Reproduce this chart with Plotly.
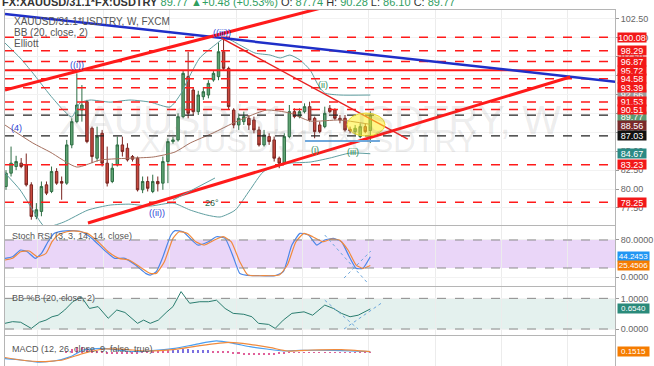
import plotly.graph_objects as go

# ---------------- data ----------------
opens = [80.34, 82.10, 82.98, 83.42, 83.20, 80.56, 76.38, 77.04, 80.56, 79.68,
         82.32, 81.00, 80.78, 85.84, 88.92, 90.46, 91.56, 88.04, 84.08, 87.38,
         83.42, 81.00, 83.20, 85.84, 85.40, 84.30, 84.08, 79.90, 81.00, 79.68,
         81.00, 80.78, 83.64, 86.28, 86.50, 89.58, 94.87, 93.10, 90.24, 92.22,
         92.44, 94.43, 94.87, 98.17, 95.97, 90.46, 88.48, 88.92, 89.36, 89.14,
         87.82, 85.84, 86.94, 86.50, 84.08, 83.42, 86.94, 90.24, 89.58, 90.24,
         90.90, 89.36, 88.48, 88.26, 90.68, 90.46, 89.36, 89.36, 87.90, 87.60,
         86.94, 88.26, 87.74]
closes = [82.10, 83.42, 83.64, 82.98, 80.56, 76.38, 77.26, 80.34, 79.46, 82.32,
          80.78, 80.78, 85.84, 88.92, 91.12, 91.12, 86.28, 84.30, 86.94, 83.42,
          80.78, 82.76, 85.84, 84.96, 83.86, 83.95, 79.90, 81.00, 80.10, 81.00,
          80.70, 83.64, 86.28, 86.50, 89.58, 95.31, 90.02, 90.24, 92.44, 92.88,
          93.98, 95.31, 98.17, 95.97, 90.90, 88.48, 89.36, 89.58, 88.48, 87.82,
          85.84, 87.16, 86.28, 84.08, 83.42, 86.94, 90.24, 89.58, 90.24, 90.90,
          89.14, 87.60, 87.60, 90.02, 90.24, 89.36, 89.14, 87.82, 87.70, 88.04,
          88.26, 87.60, 89.77]
highs = [82.5, 85.62, 84.4, 84.1, 84.7, 80.9, 78.14, 81.0, 81.0, 82.98,
         82.76, 81.66, 86.5, 89.36, 95.31, 93.76, 91.8, 88.26, 88.26, 87.82,
         85.62, 83.42, 86.94, 86.94, 86.06, 84.5, 84.30, 81.66, 81.66, 81.9,
         81.66, 84.30, 86.7, 86.9, 90.02, 95.75, 98.17, 93.5, 93.0, 93.5,
         94.4, 95.6, 99.4, 100.1, 96.2, 90.7, 90.0, 90.24, 89.8, 89.58,
         88.26, 87.82, 87.38, 86.94, 84.3, 87.38, 91.12, 90.68, 90.68, 91.34,
         91.56, 89.58, 88.92, 90.9, 91.12, 90.68, 89.8, 89.8, 88.26, 88.48,
         88.7, 88.7, 90.28]
lows = [79.9, 81.66, 82.5, 82.76, 80.34, 75.94, 76.0, 76.4, 79.2, 79.46,
        80.56, 78.58, 80.56, 85.40, 88.7, 88.92, 86.06, 83.42, 83.64, 82.98,
        80.34, 80.78, 82.98, 84.30, 83.64, 83.64, 79.68, 79.46, 79.68, 79.46,
        79.68, 79.90, 80.78, 86.0, 86.28, 89.36, 89.36, 89.8, 89.8, 91.8,
        92.0, 94.2, 94.4, 95.75, 90.46, 88.04, 87.82, 88.48, 87.82, 87.38,
        85.62, 85.62, 85.84, 83.64, 82.76, 83.2, 86.72, 89.36, 89.36, 90.02,
        88.92, 86.72, 87.38, 88.04, 90.02, 89.14, 88.7, 87.6, 87.38, 87.16,
        86.72, 87.38, 86.10]
weeks = list(range(len(opens)))

# Bollinger bands
bb_up_x = [-0.2, 2.8, 5.3, 8.7, 11.3, 13.0, 14.6, 16.6, 20.6, 24.5, 28.5, 32.4, 34.4, 36.4, 38.3,
           41.3, 43.3, 46.2, 49.2, 52.2, 54.2, 56.1, 58.1, 60.1, 61.7, 63.0, 66.0, 72.0]
bb_up_y = [99.32, 97.34, 95.35, 92.44, 90.46, 89.53, 91.38, 91.78, 91.5, 91.78, 91.5, 90.85, 92.44, 95.09, 97.34,
           99.06, 99.98, 99.06, 98.0, 97.73, 97.34, 97.73, 97.07, 95.75, 93.76, 92.7, 92.44, 92.44]
bb_mid_x = [-0.2, 5.3, 8.7, 14.0, 18.6, 25.1, 29.1, 33.4, 36.4, 40.9, 44.9, 49.6, 51.6, 56.1, 60.1, 66.0, 72.0]
bb_mid_y = [88.47, 86.09, 84.9, 82.91, 83.84, 84.1, 84.24, 84.9, 86.09, 87.41, 88.73, 90.06, 90.46, 90.06, 89.0, 89.13, 88.56]
bb_lo_x = [-0.2, 2.8, 5.3, 7.7, 11.3, 16.2, 20.6, 24.5, 28.5, 33.0, 36.4, 39.7, 42.3, 45.3, 48.2,
           50.8, 53.6, 56.1, 60.1, 64.0, 68.0, 72.0]
bb_lo_y = [82.12, 79.87, 77.22, 75.0, 75.6, 77.22, 77.88, 78.0, 77.75, 78.15, 77.22, 76.56, 76.3, 77.22, 79.87,
           82.25, 83.18, 83.44, 83.57, 84.1, 84.76, 84.67]

# horizontal levels
red_dash_levels = [100.08, 98.29, 96.87, 94.58, 93.39, 91.53, 90.51, 83.23, 78.25]
red_solid_level = 95.72
black_levels = [89.77, 87.03]

# trend lines (week index, price)
blue_line = [(-0.2, 103.16), (120.4, 94.2)]
red_upper = [(-0.2, 93.1), (66.0, 104.6)]
red_lower = [(16.2, 75.5), (111.5, 94.82)]
red_thin = [(42.5, 100.0), (79.4, 86.6)]
blue_short = [(59.1, 86.35), (73.9, 86.35)]
angle_line = [(33.0, 78.54), (41.3, 81.46)]
highlight = [(67.4, 87.01), (74.9, 90.06)]

wave_blue = [("((i))", 14.0, 96.4), ("((iii))", 42.7, 100.65), ("((ii))", 29.8, 76.8), ("(4)", 2.0, 88.1)]
wave_green = [("(ii)", 62.6, 93.76), ("(i)", 61.1, 85.16), ("(iii)", 68.6, 84.9)]

# Stoch RSI
k_x = [-0.2, 1.3, 2.9, 4.2, 5.8, 7.0, 8.3, 9.5, 11.2, 13.2, 14.9, 17.0, 19.4, 21.5, 23.5, 25.6, 27.6, 28.5,
       29.7, 30.9, 32.6, 33.4, 35.0, 36.7, 37.9, 40.0, 41.6, 43.3, 44.9, 46.2, 47.4, 49.9, 53.2, 54.8, 56.5,
       58.1, 59.8, 61.4, 63.0, 64.7, 66.3, 68.0, 69.2, 70.5, 72.0]
k_y = [40.7, 44.1, 58.5, 54.9, 40.7, 51.3, 76.3, 94.1, 99.1, 100, 97.7, 83.4, 58.5, 40.7, 40.7, 26.3, 8.5, 4.9,
       12.0, 40.7, 90.6, 100, 97.7, 79.9, 69.2, 76.3, 87.0, 83.4, 44.1, 8.5, 4.9, 3.5, 3.5, 12.0, 69.2,
       94.1, 90.6, 69.2, 79.9, 83.4, 76.3, 40.7, 19.2, 19.2, 44.25]
d_x = [-0.2, 1.3, 2.9, 4.6, 6.2, 7.9, 9.1, 10.3, 12.0, 14.0, 16.1, 18.2, 20.2, 22.3, 24.3, 26.4, 28.5, 29.7,
       31.3, 33.0, 34.2, 35.9, 37.5, 39.2, 41.2, 42.9, 44.5, 46.2, 47.8, 50.7, 54.0, 55.6, 57.3, 58.9, 60.6,
       62.6, 64.3, 65.9, 67.6, 69.2, 70.5, 72.0]
d_y = [37.1, 40.7, 54.9, 56.3, 44.1, 51.3, 76.3, 90.6, 97.7, 99.1, 94.1, 76.3, 54.9, 40.7, 37.1, 22.7, 8.5, 8.5,
       33.5, 83.4, 97.7, 94.1, 76.3, 69.2, 79.9, 87.0, 76.3, 33.5, 4.9, 3.5, 4.9, 26.3, 76.3, 94.1, 87.0,
       76.3, 82.0, 79.9, 58.5, 26.3, 19.2, 25.45]
stoch_dotted = [[(63.0, 90.6), (71.7, -15.0)], [(66.8, -1.5), (72.1, 56.3)]]

# BB %B
pb_x = [-0.2, 1.3, 2.9, 5.0, 6.6, 7.9, 9.1, 10.3, 11.6, 13.2, 14.9, 16.5, 18.2, 20.2, 21.9, 23.5, 26.0, 27.2,
        28.5, 30.1, 31.8, 33.0, 34.6, 36.3, 38.3, 40.0, 41.6, 43.3, 44.9, 47.0, 48.6, 49.9, 51.9, 53.2, 54.8,
        56.5, 58.9, 60.6, 63.0, 64.7, 66.3, 68.0, 69.6, 72.0]
pb_y = [0.185, 0.24, 0.22, 0.02, 0.22, 0.29, 0.40, 0.45, 0.62, 0.89, 1.05, 0.67, 0.73, 0.35, 0.62, 0.54, 0.185,
        0.29, 0.185, 0.29, 0.56, 0.73, 1.22, 0.84, 0.89, 0.89, 0.94, 0.67, 0.51, 0.48, 0.40, 0.185, 0.15, 0.02,
        0.29, 0.51, 0.56, 0.45, 0.78, 0.67, 0.51, 0.40, 0.45, 0.654]
pb_dotted = [[(63.0, 0.94), (69.6, 0.0)], [(66.8, 0.0), (74.5, 0.88)]]

# MACD
macd_x = [-1.2, 2.9, 6.2, 9.5, 12.8, 15.3, 19.4, 23.5, 26.8, 33.4, 37.5, 41.6, 44.9, 48.2, 51.5, 54.8, 58.1, 64.7, 72.0]
macd_y = [-0.97, -1.25, -1.6, -1.42, -0.69, 0.42, 0.69, 0.25, 0.14, 0.69, 1.36, 1.92, 1.53, 0.97, 0.58, 0.25, 0.36, 0.36, 0.15]
sig_x = [-1.2, 2.9, 7.0, 11.2, 15.3, 19.4, 23.5, 27.6, 33.4, 38.3, 44.1, 48.2, 52.3, 55.6, 60.6, 66.3, 72.0]
sig_y = [-0.69, -1.25, -1.53, -1.25, -0.14, 0.58, 0.53, 0.25, 0.53, 1.14, 1.69, 1.36, 0.81, 0.25, 0.42, 0.47, 0.15]
hist_x = list(range(12, 73))
hist_y = [0.3, 0.6, 0.9, 1.0, 0.7, 0.4, 0.3, 0.1, -0.1, -0.2, -0.1, -0.1, -0.2, -0.2, -0.3,
          0.2, 0.2, 0.25, 0.25, 0.3, 0.35, 0.4, 0.5, 0.6, 0.6, 0.5, 0.5, 0.45, 0.4, 0.3, 0.3, 0.25, 0.2,
          -0.1, -0.3, -0.35, -0.4, -0.45, -0.45, -0.4, -0.4, -0.35, -0.3, -0.1,
          0.05, 0.05, 0.04, 0.04, 0.03, 0.03, 0.03, 0.02, -0.02, -0.03, -0.03, -0.04, -0.04, -0.03, -0.03, -0.02, 0.02]
hist_blue_weeks = range(33, 41)

grid_weeks = [6.2 + 13.1 * k for k in range(9)]

# ---------------- figure ----------------
FONT = "Liberation Sans, Arial, sans-serif"
RED = "#ff1a1a"
fig = go.Figure()

fig.add_trace(go.Candlestick(
    x=weeks, open=opens, high=highs, low=lows, close=closes,
    increasing=dict(line=dict(color="#2f6e45", width=1), fillcolor="#5fa473"),
    decreasing=dict(line=dict(color="#7a2520", width=1), fillcolor="#c8493e"),
    whiskerwidth=0, xaxis="x", yaxis="y", showlegend=False))

for bx, by, col in [(bb_up_x, bb_up_y, "#5f9ea0"), (bb_lo_x, bb_lo_y, "#5f9ea0"), (bb_mid_x, bb_mid_y, "#a5705f")]:
    fig.add_trace(go.Scatter(x=bx, y=by, mode="lines", line=dict(color=col, width=1, shape="spline", smoothing=0.6),
                             xaxis="x", yaxis="y", showlegend=False, hoverinfo="skip"))

# stoch
fig.add_trace(go.Scatter(x=k_x, y=k_y, mode="lines", line=dict(color="#4a86e8", width=1.2, shape="spline", smoothing=0.5),
                         xaxis="x2", yaxis="y2", showlegend=False))
fig.add_trace(go.Scatter(x=d_x, y=d_y, mode="lines", line=dict(color="#f08a3c", width=1.2, shape="spline", smoothing=0.5),
                         xaxis="x2", yaxis="y2", showlegend=False))
# %B
fig.add_trace(go.Scatter(x=pb_x, y=pb_y, mode="lines", line=dict(color="#2a7d6f", width=1),
                         xaxis="x3", yaxis="y3", showlegend=False))
# MACD
hist_colors = ["#7b6fe0" if w in hist_blue_weeks else "#e0609a" for w in hist_x]
fig.add_trace(go.Bar(x=hist_x, y=hist_y, marker=dict(color=hist_colors, line=dict(width=0)), width=0.3,
                     xaxis="x4", yaxis="y4", showlegend=False))
fig.add_trace(go.Scatter(x=macd_x, y=macd_y, mode="lines", line=dict(color="#4a9ef0", width=1.2, shape="spline", smoothing=0.5),
                         xaxis="x4", yaxis="y4", showlegend=False))
fig.add_trace(go.Scatter(x=sig_x, y=sig_y, mode="lines", line=dict(color="#f08a3c", width=1.2, shape="spline", smoothing=0.5),
                         xaxis="x4", yaxis="y4", showlegend=False))

shapes = []
# panel fills
shapes.append(dict(type="rect", xref="x2 domain", x0=0, x1=1, yref="y2", y0=20, y1=80,
                   fillcolor="#ead6f8", line=dict(width=0), layer="below"))
shapes.append(dict(type="rect", xref="x3 domain", x0=0, x1=1, yref="y3", y0=0, y1=1,
                   fillcolor="#e4f1ee", line=dict(width=0), layer="below"))
for v in (20, 80):
    shapes.append(dict(type="line", xref="x2 domain", x0=0, x1=1, yref="y2", y0=v, y1=v,
                       line=dict(color="#8a8a8a", width=1, dash="dash")))
for v in (0, 1):
    shapes.append(dict(type="line", xref="x3 domain", x0=0, x1=1, yref="y3", y0=v, y1=v,
                       line=dict(color="#8a8a8a", width=1, dash="dash")))

for lv in red_dash_levels:
    shapes.append(dict(type="line", xref="x domain", x0=0, x1=1, yref="y", y0=lv, y1=lv,
                       line=dict(color=RED, width=1.5, dash="dash")))
shapes.append(dict(type="line", xref="x domain", x0=0, x1=1, yref="y", y0=red_solid_level, y1=red_solid_level,
                   line=dict(color=RED, width=2)))
for lv in black_levels:
    shapes.append(dict(type="line", xref="x domain", x0=0, x1=1, yref="y", y0=lv, y1=lv,
                       line=dict(color="#222222", width=1.3, dash="dash")))

def seg(p, color, width, dash="solid", xr="x", yr="y"):
    return dict(type="line", xref=xr, yref=yr, x0=p[0][0], y0=p[0][1], x1=p[1][0], y1=p[1][1],
                line=dict(color=color, width=width, dash=dash))

shapes.append(seg(blue_line, "#1f2fc8", 2.5))
shapes.append(seg(red_upper, RED, 3))
shapes.append(seg(red_lower, RED, 3))
shapes.append(seg(red_thin, "#e82020", 1.5))
shapes.append(seg(blue_short, "#6fa8dc", 2))
shapes.append(seg(angle_line, "#5f9ea0", 1))
shapes.append(dict(type="circle", xref="x", yref="y", x0=highlight[0][0], y0=highlight[0][1],
                   x1=highlight[1][0], y1=highlight[1][1], fillcolor="rgba(255,240,40,0.55)",
                   line=dict(color="rgba(230,210,40,0.9)", width=1)))
for p in stoch_dotted:
    shapes.append(seg(p, "#6fa8dc", 1, "dot", "x2", "y2"))
for p in pb_dotted:
    shapes.append(seg(p, "#6fa8dc", 1, "dot", "x3", "y3"))

ann = []
# watermarks
ann.append(dict(text="XAUUSD/31.1*USDTRY, W", xref="paper", yref="paper", x=0.5, y=0.761, showarrow=False,
                font=dict(size=41, color="rgba(120,120,120,0.14)", family=FONT)))
ann.append(dict(text="XAUUSD/31.1*USDTRY", xref="paper", yref="paper", x=0.497, y=0.632, showarrow=False,
                font=dict(size=31, color="rgba(120,120,120,0.14)", family=FONT)))
# header (partly above the visible area, as in the reference)
G = "#2f9e5f"
ann.append(dict(text=("<b>FX:XAUUSD/31.1*FX:USDTRY</b> <span style='color:%s'>89.77 ▲+0.48 (+0.53%%)</span> "
                      "O: <span style='color:%s'>87.74</span> H: <span style='color:%s'>90.28</span> "
                      "L: <span style='color:%s'>86.10</span> C: <span style='color:%s'>89.77</span>") % (G, G, G, G, G),
                xref="paper", yref="paper", x=-0.008, y=1.0225, xanchor="left", yanchor="middle", showarrow=False,
                font=dict(size=11, color="#333333", family=FONT)))
# legends
for txt, yp in [("XAUUSD/31.1*USDTRY, W, FXCM", 0.969), ("BB (20, close, 2)", 0.938), ("Elliott", 0.907)]:
    ann.append(dict(text=txt, xref="paper", yref="paper", x=0.0115, y=yp, xanchor="left", yanchor="middle",
                    showarrow=False, font=dict(size=10, color="#555555", family=FONT)))
for txt, yp in [("Stoch RSI (3, 3, 14, 14, close)", 0.365), ("BB %B (20, close, 2)", 0.191),
                ("MACD (12, 26, close, 9, false, true)", 0.048)]:
    ann.append(dict(text=txt, xref="paper", yref="paper", x=0.008, y=yp, xanchor="left", yanchor="middle",
                    showarrow=False, font=dict(size=9, color="#555555", family=FONT)))
# wave labels
for t, xv, yv in wave_blue:
    ann.append(dict(text=t, x=xv, y=yv, xref="x", yref="y", showarrow=False,
                    font=dict(size=9, color="#2b3fd6", family=FONT)))
for t, xv, yv in wave_green:
    ann.append(dict(text=t, x=xv, y=yv, xref="x", yref="y", showarrow=False,
                    font=dict(size=9, color="#2e8b57", family=FONT)))
ann.append(dict(text="26°", x=40.7, y=78.15, xref="x", yref="y", showarrow=False,
                font=dict(size=9, color="#2e6b4f", family=FONT)))

def plabel(text, yv, yref, bg, w=28, fs=9):
    return dict(text=text, xref="paper", x=1.0, xanchor="left", xshift=2, y=yv, yref=yref, yanchor="middle",
                showarrow=False, bgcolor=bg, width=w, height=9, borderpad=0,
                font=dict(size=fs, color="white", family=FONT))

ann.append(plabel("92.66", 92.55, "y", "#9a9a9a"))
ann.append(plabel("89.77", 89.6, "y", "#5c9c74"))
for lv in [100.08, 98.29, 96.87, 95.72, 94.58, 93.39, 91.53, 90.51, 83.23, 78.25]:
    ann.append(plabel("%.2f" % lv, lv, "y", "#f21818"))
ann.append(plabel("88.56", 88.35, "y", "#7a2a2a"))
ann.append(plabel("87.03", 87.03, "y", "#111111"))
ann.append(plabel("84.67", 84.67, "y", "#2a8a84"))
ann.append(plabel("44.2453", 44.25, "y2", "#2196f3", 31, 8))
ann.append(plabel("25.4506", 25.45, "y2", "#f57c00", 31, 8))
ann.append(plabel("0.6540", 0.654, "y3", "#2a8a7a", 31, 8))
ann.append(plabel("0.1515", 0.15, "y4", "#f57c00", 31, 8))

# layout
AX = dict(showline=True, linecolor="#b5b5b5", linewidth=1, mirror=True, zeroline=False)
xcommon = dict(range=[-0.198, 120.36], tickvals=grid_weeks, showticklabels=False, ticks="",
               showgrid=True, gridcolor="#ececec", **AX)
ycommon = dict(side="right", ticks="outside", ticklen=3, tickcolor="#999999", showgrid=True, gridcolor="#f2f2f2",
               tickfont=dict(size=9, color="#666666", family=FONT), automargin=False, **AX)

main_ticks = [77.5 + 2.5 * k for k in range(11)]
fig.update_layout(
    width=654, height=366, margin=dict(l=5, r=39, t=10, b=0, autoexpand=False),
    paper_bgcolor="white", plot_bgcolor="white", showlegend=False, bargap=0,
    xaxis=dict(anchor="y", domain=[0, 1], rangeslider=dict(visible=False), **xcommon),
    xaxis2=dict(anchor="y2", domain=[0, 1], matches="x", **xcommon),
    xaxis3=dict(anchor="y3", domain=[0, 1], matches="x", **xcommon),
    xaxis4=dict(anchor="y4", domain=[0, 1], matches="x", **xcommon),
    yaxis=dict(domain=[0.396, 1.0], range=[75.24, 103.69], anchor="x", tickvals=main_ticks,
               ticktext=["%.2f" % v for v in main_ticks], **ycommon),
    yaxis2=dict(domain=[0.2247, 0.3933], range=[-18.6, 110], anchor="x2", tickvals=[0, 80],
                ticktext=["0.0000", "80.0000"], **ycommon),
    yaxis3=dict(domain=[0.0871, 0.2219], range=[-0.195, 1.37], anchor="x3", tickvals=[0, 1],
                ticktext=["0.0000", "1.0000"], **ycommon),
    yaxis4=dict(domain=[0.0, 0.0843], range=[-2.25, 2.75], anchor="x4", tickvals=[], **ycommon),
    shapes=shapes, annotations=ann,
    font=dict(family=FONT),
)

# remove the browser's default page margin so the figure sits at the window's top-left corner
fig.write_html("out.html", config={"displayModeBar": False},
               post_script="document.body.style.margin='0';document.body.style.overflow='hidden';")
